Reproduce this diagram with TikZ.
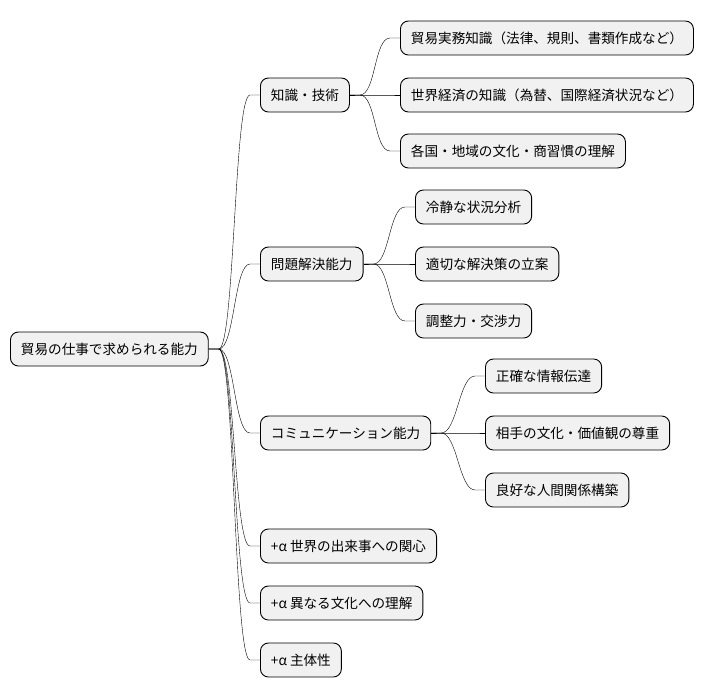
\documentclass[tikz,border=0pt]{standalone}
\usepackage{fontspec}
\setmainfont{Noto Sans CJK JP}
\usepackage{tikz}
\usetikzlibrary{shapes.geometric, arrows}
\definecolor{boxgray}{HTML}{F1F1F1}
\tikzstyle{topic} = [rectangle, rounded corners=8pt, minimum height=34pt, inner xsep=10.5pt, draw=black, line width=0.9pt, fill=boxgray, font=\fontsize{13.6}{15}\selectfont, anchor=west]
\tikzstyle{branch} = [line width=0.7pt, to path={-- ++(10,0) .. controls +(16,0) and +(-16,0) .. ([xshift=-10pt]\tikztotarget) -- (\tikztotarget)}]

\begin{document}
\begin{tikzpicture}[x=1pt, y=-1pt]
        \useasboundingbox (0,0) rectangle (712,696);
        \node (root) [topic] at (10,349) {貿易の仕事で求められる能力};

        \node (skills) [topic] at (260,95) {知識・技術};
        \node (trade) [topic] at (400,38) {貿易実務知識（法律、規則、書類作成など）};
        \node (economy) [topic] at (400,95) {世界経済の知識（為替、国際経済状況など）};
        \node (culture) [topic] at (400,151) {各国・地域の文化・商習慣の理解};

        \node (solving) [topic] at (260,264) {問題解決能力};
        \node (analysis) [topic] at (415,207) {冷静な状況分析};
        \node (plan) [topic] at (415,264) {適切な解決策の立案};
        \node (negotiate) [topic] at (415,321) {調整力・交渉力};

        \node (comm) [topic] at (260,433) {コミュニケーション能力};
        \node (inform) [topic] at (485,376) {正確な情報伝達};
        \node (respect) [topic] at (485,433) {相手の文化・価値観の尊重};
        \node (relation) [topic] at (485,490) {良好な人間関係構築};

        \node (interest) [topic] at (260,546) {+α 世界の出来事への関心};
        \node (understand) [topic] at (260,603) {+α 異なる文化への理解};
        \node (initiative) [topic] at (260,660) {+α 主体性};

        \draw (root.east) to[branch] (skills.west);
        \draw (root.east) to[branch] (solving.west);
        \draw (root.east) to[branch] (comm.west);
        \draw (root.east) to[branch] (interest.west);
        \draw (root.east) to[branch] (understand.west);
        \draw (root.east) to[branch] (initiative.west);

        \draw (skills.east) to[branch] (trade.west);
        \draw (skills.east) to[branch] (economy.west);
        \draw (skills.east) to[branch] (culture.west);

        \draw (solving.east) to[branch] (analysis.west);
        \draw (solving.east) to[branch] (plan.west);
        \draw (solving.east) to[branch] (negotiate.west);

        \draw (comm.east) to[branch] (inform.west);
        \draw (comm.east) to[branch] (respect.west);
        \draw (comm.east) to[branch] (relation.west);
    \end{tikzpicture}
\end{document}
